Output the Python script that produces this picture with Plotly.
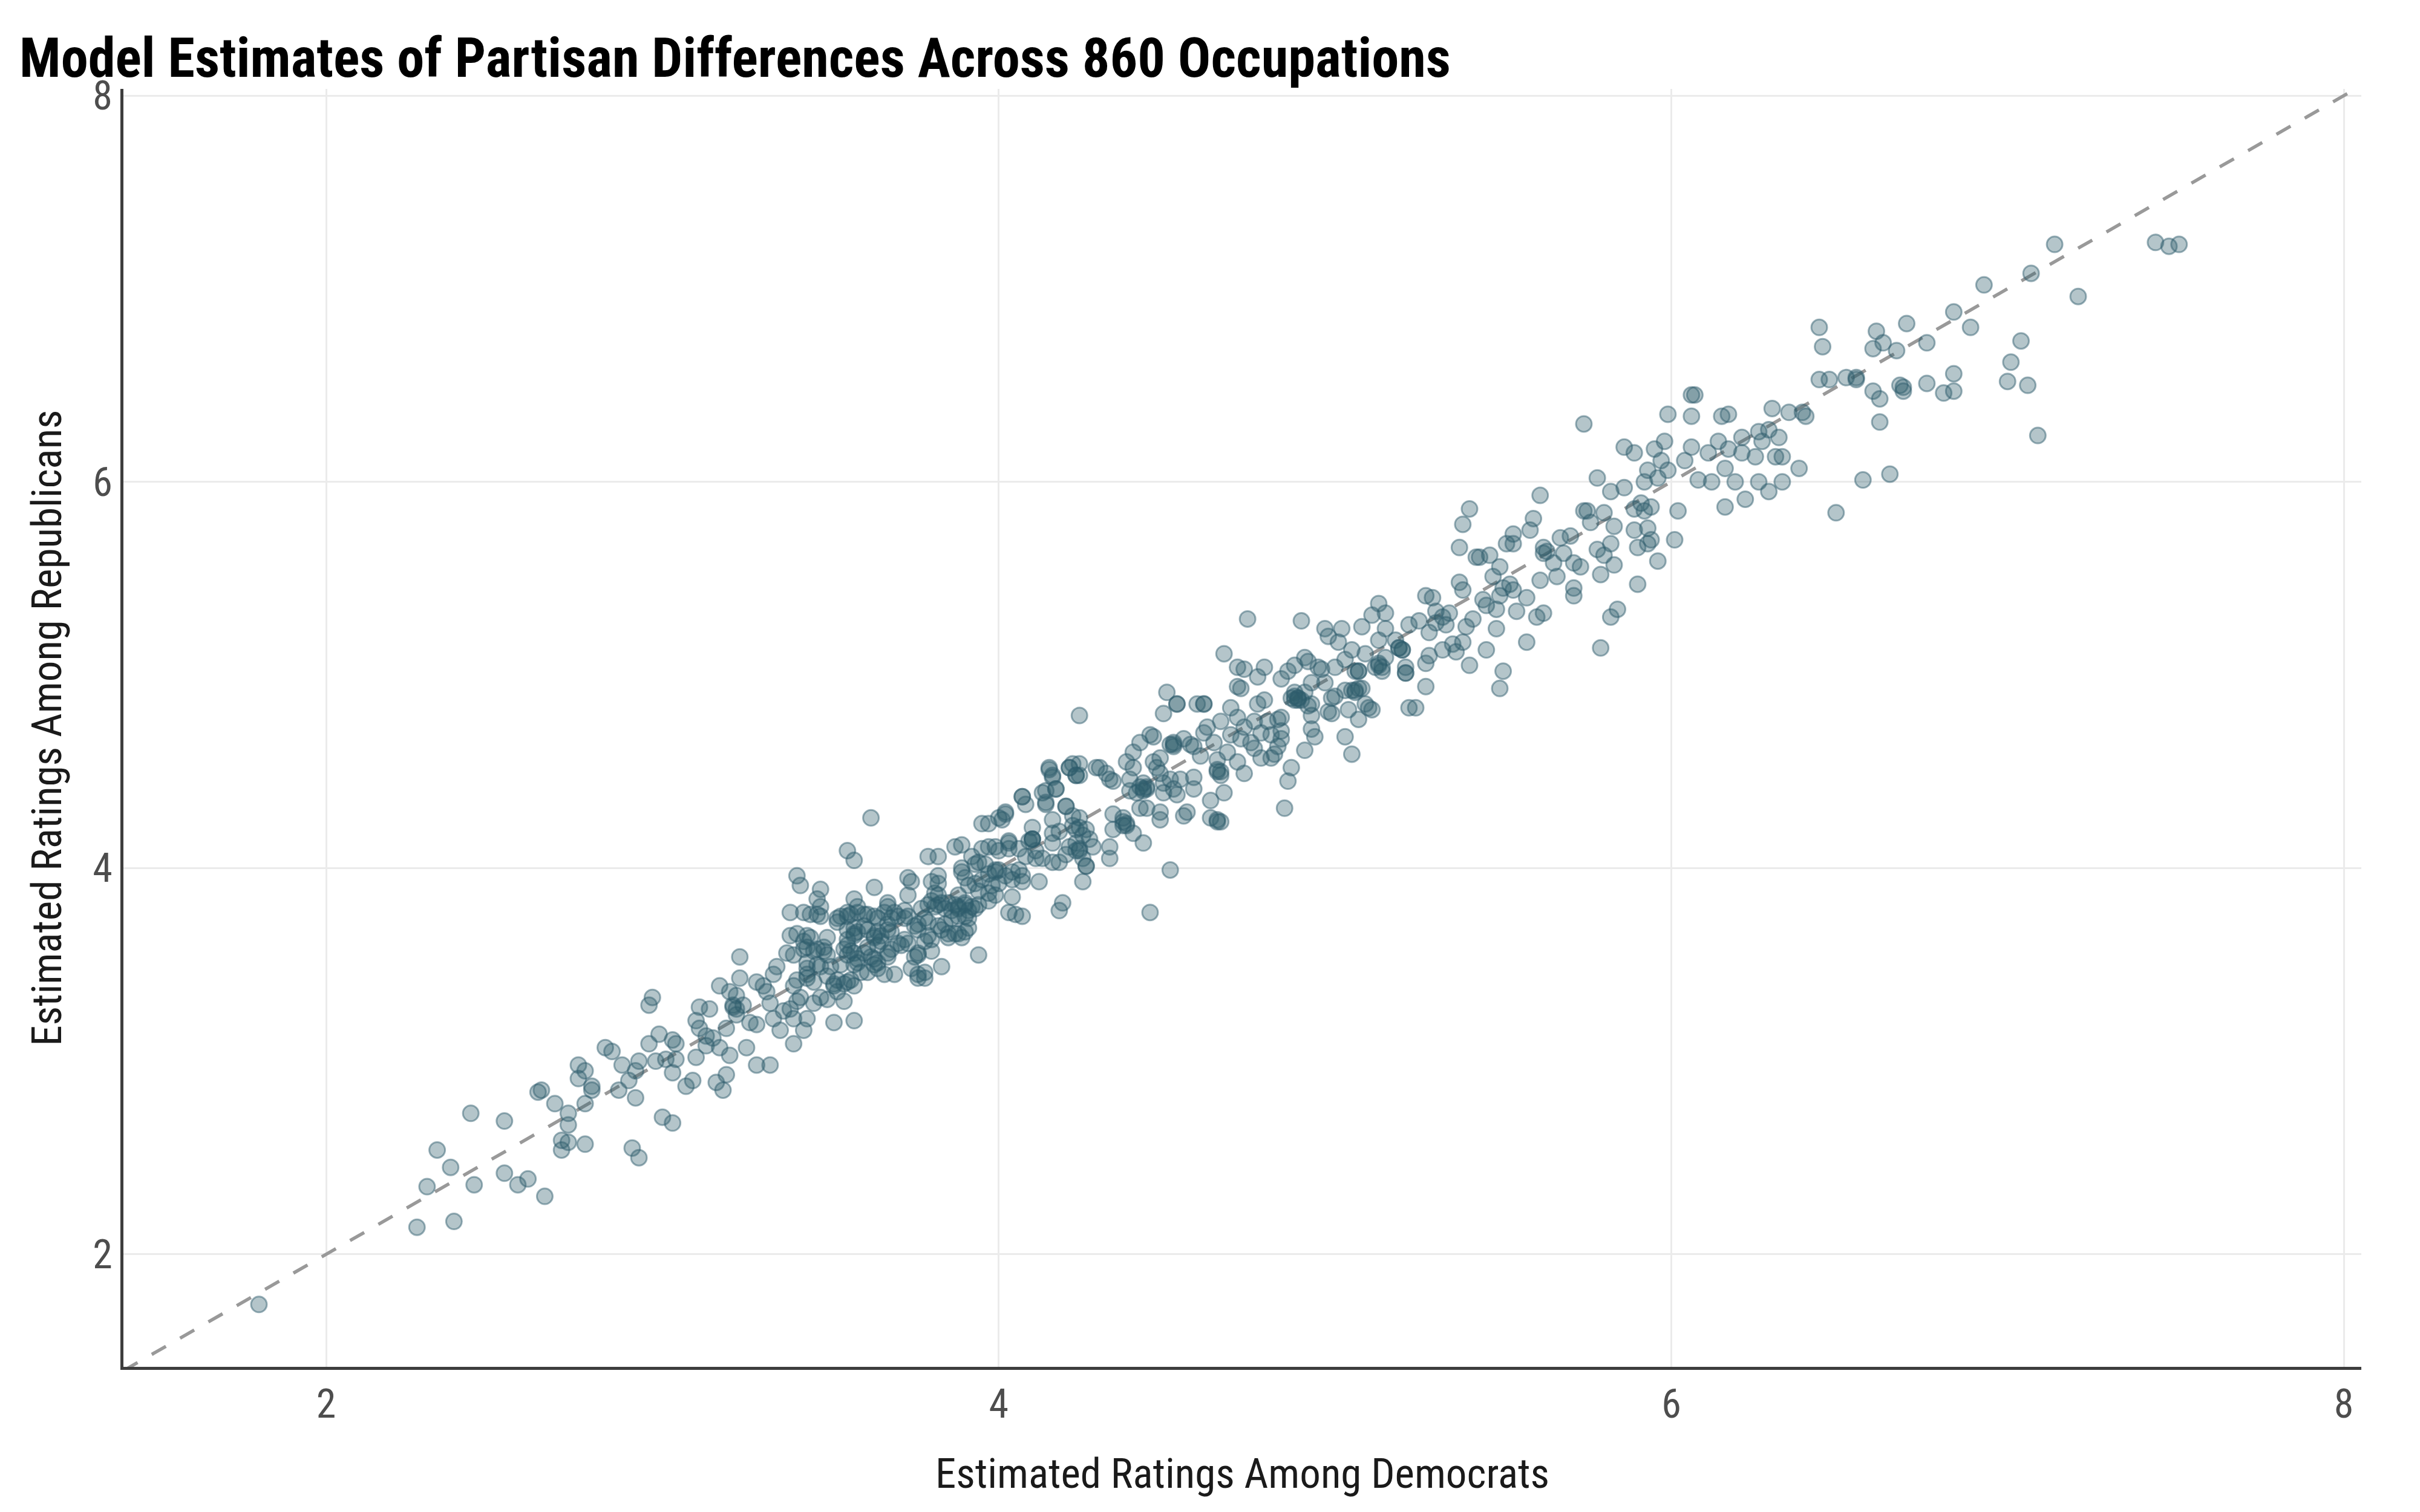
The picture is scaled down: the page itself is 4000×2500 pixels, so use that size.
import plotly.graph_objects as go

# ---- data (Democrat rating, Republican rating) ----
low_dem = [1.80, 2.27, 2.38, 2.30, 2.33, 2.37, 2.43, 2.44, 2.53, 2.53, 2.57, 2.60, 2.65, 2.63, 2.64, 2.68,
           2.70, 2.70, 2.72, 2.72, 2.72, 2.75, 2.75, 2.77, 2.77, 2.77, 2.79, 2.79, 2.91, 2.93, 3.00, 3.03]
low_rep = [1.74, 2.14, 2.17, 2.35, 2.54, 2.45, 2.73, 2.36, 2.42, 2.69, 2.36, 2.39, 2.30, 2.84, 2.85, 2.78,
           2.54, 2.59, 2.58, 2.73, 2.67, 2.91, 2.98, 2.95, 2.57, 2.78, 2.87, 2.85, 2.55, 2.50, 2.71, 2.68]

mid_dem = [2.83, 2.85, 2.88, 2.87, 2.92, 2.92, 2.90, 2.93, 2.96, 2.96,
           2.97, 2.99, 2.98, 3.01, 3.03, 3.04, 3.03, 3.04, 3.07, 3.09,
           3.10, 3.10, 3.11, 3.14, 3.11, 3.13, 3.15, 3.13, 3.17, 3.16,
           3.18, 3.19, 3.17, 3.20, 3.19, 3.20, 3.21, 3.22, 3.22, 3.23,
           3.24, 3.25, 3.26, 3.28, 3.28, 3.28, 3.30, 3.31, 3.32, 3.32,
           3.33, 3.35, 3.36, 3.33, 3.34, 3.39, 3.42, 3.62, 3.23, 3.95,
           3.97, 4.01, 4.02, 4.03, 4.07, 4.08,
           4.10, 4.10, 4.11, 4.12, 4.13, 4.15, 4.16, 4.17, 4.14, 4.16,
           4.18, 4.20, 4.21, 4.22, 4.23, 4.24, 4.24, 4.25, 4.21, 4.19,
           4.18, 4.22, 4.25, 4.26, 4.16, 3.21, 3.22]
mid_rep = [3.07, 3.05, 2.98, 2.85, 2.81, 2.95, 2.90, 3.00, 3.09, 3.29,
           3.33, 3.14, 3.00, 3.01, 2.94, 3.01, 3.11, 3.09, 2.87, 2.90,
           3.02, 3.21, 3.28, 3.27, 3.17, 3.13, 3.12, 3.08, 3.07, 2.89,
           2.85, 2.93, 3.39, 3.36, 3.17, 3.03, 3.29, 3.24, 3.34, 3.43,
           3.29, 3.07, 3.20, 3.19, 2.98, 3.41, 3.39, 3.36, 2.98, 3.30,
           3.22, 3.16, 3.26, 3.45, 3.49, 3.09, 3.16, 4.26, 3.54, 4.23,
           4.23, 4.25, 4.29, 4.13, 4.37, 4.33,
           4.15, 4.21, 4.05, 3.93, 4.39, 4.51, 4.47, 4.41, 4.34, 4.25,
           4.19, 4.32, 4.52, 4.54, 4.48, 4.79, 4.09, 3.93, 4.11, 3.82,
           3.78, 4.22, 4.17, 4.01, 4.03, 3.28, 3.27]

core_dem = [3.55, 3.57, 3.79, 3.82, 3.87, 3.89, 3.92, 3.95, 3.97, 3.99, 4.00, 4.03, 4.06, 4.08, 3.89,
            3.93, 3.94, 3.96, 3.99, 3.99, 4.00, 3.97, 4.02, 4.04, 4.06, 4.07, 4.07, 4.04, 4.00, 3.98,
            3.95, 3.93, 3.91, 3.89, 3.90, 3.94, 3.97, 3.99, 3.97, 4.04, 4.03, 4.05, 4.07, 3.94, 3.88,
            3.90, 3.90, 3.88, 3.87, 3.91, 3.92, 3.93, 3.94, 3.85, 3.83, 3.82, 3.81, 3.84, 3.86, 3.88,
            3.82, 3.81, 3.80, 3.79, 3.82, 3.82, 3.80, 3.73, 3.74, 3.73, 3.77, 3.75, 3.76, 3.76, 3.78,
            3.79, 3.82, 3.83, 3.84, 3.86, 3.88, 3.90, 3.91, 3.85, 3.85, 3.87, 3.88, 3.90, 3.89, 3.91,
            3.79, 3.80, 3.78, 3.80, 3.76, 3.76, 3.75, 3.74, 3.76, 3.78, 3.76, 3.78, 3.83, 3.63, 3.47,
            3.46, 3.47, 3.46, 3.47, 3.44, 3.40, 3.41, 3.38, 3.42, 3.57, 3.58, 3.56, 3.55, 3.55, 3.52,
            3.52, 3.53, 3.58, 3.60, 3.61, 3.63, 3.64, 3.67, 3.67, 3.66, 3.69, 3.70, 3.72, 3.73, 3.72,
            3.68, 3.67, 3.64, 3.63, 3.65, 3.63, 3.65, 3.64, 3.68, 3.67, 3.60, 3.61, 3.58, 3.57, 3.55,
            3.57, 3.57, 3.55, 3.55, 3.56, 3.57, 3.54, 3.55, 3.58, 3.58, 3.57, 3.60, 3.62, 3.63, 3.61,
            3.63, 3.64, 3.64, 3.67, 3.68, 3.67, 3.70, 3.72, 3.71, 3.73, 3.66, 3.69, 3.59, 3.61, 3.53,
            3.50, 3.49, 3.48, 3.48, 3.46, 3.49, 3.44, 3.43, 3.42, 3.42, 3.43, 3.45, 3.40, 3.38, 3.37,
            3.39, 3.43, 3.43, 3.43, 3.43, 3.45, 3.40, 3.39, 3.46, 3.47, 3.49, 3.51, 3.52, 3.54, 3.52,
            3.51, 3.55, 3.56, 3.57, 3.49, 3.47, 3.45, 3.54, 3.41, 3.40, 3.38, 3.39, 3.43, 3.51, 3.57]
core_rep = [4.09, 4.04, 4.06, 4.06, 4.11, 4.12, 4.06, 4.10, 4.11, 4.11, 4.09, 4.10, 4.10, 4.06, 4.00,
            4.02, 4.03, 4.02, 3.99, 3.98, 3.99, 3.97, 3.96, 3.98, 3.99, 3.96, 3.93, 3.94, 3.92, 3.91,
            3.94, 3.92, 3.91, 3.98, 3.95, 3.88, 3.87, 3.86, 3.83, 3.85, 3.77, 3.76, 3.75, 3.55, 3.86,
            3.82, 3.81, 3.80, 3.81, 3.78, 3.80, 3.79, 3.81, 3.82, 3.82, 3.81, 3.80, 3.79, 3.78, 3.79,
            3.86, 3.87, 3.83, 3.81, 3.96, 3.92, 3.93, 3.95, 3.93, 3.86, 3.79, 3.70, 3.71, 3.68, 3.74,
            3.72, 3.70, 3.68, 3.71, 3.74, 3.75, 3.75, 3.74, 3.66, 3.64, 3.66, 3.66, 3.67, 3.64, 3.69,
            3.65, 3.63, 3.62, 3.57, 3.55, 3.56, 3.54, 3.48, 3.45, 3.46, 3.43, 3.43, 3.49, 3.90, 3.89,
            3.84, 3.80, 3.76, 3.75, 3.76, 3.96, 3.91, 3.77, 3.77, 3.84, 3.80, 3.76, 3.75, 3.77, 3.74,
            3.72, 3.75, 3.77, 3.76, 3.76, 3.75, 3.74, 3.82, 3.80, 3.77, 3.77, 3.75, 3.78, 3.75, 3.74,
            3.74, 3.71, 3.67, 3.65, 3.65, 3.64, 3.62, 3.60, 3.67, 3.68, 3.70, 3.68, 3.67, 3.69, 3.68,
            3.66, 3.65, 3.63, 3.60, 3.57, 3.56, 3.58, 3.55, 3.53, 3.51, 3.50, 3.56, 3.54, 3.53, 3.59,
            3.50, 3.51, 3.48, 3.56, 3.58, 3.54, 3.61, 3.63, 3.60, 3.61, 3.45, 3.45, 3.46, 3.46, 3.50,
            3.49, 3.64, 3.57, 3.59, 3.58, 3.55, 3.64, 3.65, 3.62, 3.58, 3.59, 3.57, 3.66, 3.65, 3.56,
            3.55, 3.51, 3.48, 3.45, 3.43, 3.41, 3.42, 3.39, 3.50, 3.49, 3.44, 3.40, 3.42, 3.40, 3.36,
            3.39, 3.41, 3.42, 3.39, 3.32, 3.33, 3.30, 3.31, 3.33, 3.31, 3.27, 3.22, 3.22, 3.20, 3.21]

upper_dem = [4.33, 4.33, 4.34, 4.34, 4.37, 4.37, 4.38, 4.40, 4.43, 4.41,
             4.39, 4.39, 4.43, 4.44, 4.42, 4.44, 4.38, 4.40, 4.42, 4.40,
             4.45, 4.46, 4.46, 4.48, 4.47, 4.48, 4.49, 4.49, 4.48, 4.48,
             4.51, 4.49, 4.50, 4.51, 4.51, 4.52, 4.53, 4.53, 4.54, 4.55,
             4.55, 4.56, 4.57, 4.58, 4.58, 4.58, 4.59, 4.61, 4.60, 4.61,
             4.62, 4.63, 4.64, 4.63, 4.65, 4.65, 4.65, 4.65, 4.66, 4.66,
             4.67, 4.67, 4.68, 4.69, 4.69, 4.71, 4.71, 4.71, 4.71, 4.72,
             4.73, 4.73, 4.73, 4.74, 4.75, 4.76, 4.76, 4.77, 4.77, 4.78,
             4.78, 4.79, 4.79, 4.80, 4.81, 4.81, 4.82, 4.83, 4.83, 4.84,
             4.84, 4.84, 4.85, 4.86, 4.87, 4.86, 4.88, 4.88, 4.89, 4.90,
             4.90, 4.91, 4.91, 4.91, 4.92, 4.92, 4.93, 4.93, 4.93, 4.94,
             4.93, 4.95, 4.96, 4.97, 4.97, 4.98, 4.99, 5.00, 5.00, 5.01,
             5.02, 5.03, 5.03, 5.03, 5.04, 5.05, 5.05, 5.05, 5.06, 5.06,
             5.07, 5.07, 5.08, 5.08, 5.09, 5.09, 5.10, 5.11, 5.11, 5.12,
             5.13, 5.13, 5.13, 5.14, 5.15, 5.15, 5.15, 5.18, 5.19, 5.20,
             5.21, 5.21, 5.22, 5.24, 5.22, 5.25, 5.27, 5.27, 5.28, 5.27,
             5.28, 5.29, 5.30, 5.30, 5.32, 5.32, 5.33, 5.34, 5.35, 5.36,
             5.37, 5.37, 5.38, 5.38, 5.40, 5.38, 5.39, 5.40, 5.41, 5.42,
             4.15, 4.21, 4.24, 4.16, 4.23, 4.24, 4.29, 4.30, 4.32, 4.33,
             4.34, 4.14, 4.17, 4.07, 4.14, 4.20, 4.22, 4.24, 4.26, 4.27,
             4.28, 4.23, 4.20, 4.18, 4.10, 4.11, 4.13, 4.02,
             4.00, 4.03, 4.16, 4.16, 4.25, 4.26,
             4.89, 4.88, 4.52, 4.43, 4.44, 4.45]
upper_rep = [4.05, 4.11, 4.20, 4.28, 4.22, 4.26, 4.22, 4.18, 4.13, 4.39,
             4.40, 4.46, 4.44, 4.41, 4.31, 4.31, 4.55, 4.60, 4.65, 4.52,
             4.69, 4.68, 4.55, 4.57, 4.52, 4.49, 4.44, 4.39, 4.25, 4.29,
             3.99, 4.80, 4.91, 4.64, 4.46, 4.41, 4.38, 4.85, 4.46, 4.67,
             4.27, 4.29, 4.64, 4.63, 4.47, 4.41, 4.85, 4.85, 4.58, 4.70,
             4.73, 4.26, 4.65, 4.35, 4.25, 4.24, 4.56, 4.50, 4.48, 4.76,
             4.39, 5.11, 4.60, 4.83, 4.69, 5.04, 4.55, 4.78, 4.94, 4.67,
             5.03, 4.49, 4.73, 5.29, 4.65, 4.62, 4.76, 4.99, 4.85, 4.57,
             4.70, 5.04, 4.87, 4.76, 4.69, 4.57, 4.59, 4.63, 4.77, 4.67,
             4.71, 4.98, 4.31, 4.45, 4.52, 5.02, 5.05, 4.91, 4.88, 5.28,
             4.87, 4.91, 4.61, 5.09, 5.07, 4.84, 4.79, 4.96, 4.72, 4.68,
             4.85, 5.04, 5.03, 4.96, 5.24, 5.20, 4.88, 5.04, 4.89, 5.17,
             5.24, 5.08, 4.92, 4.68, 4.82, 5.13, 4.92, 4.59, 5.02, 4.91,
             5.02, 4.77, 4.93, 5.25, 5.11, 4.85, 4.83, 5.31, 4.82, 5.04,
             5.37, 5.18, 5.06, 5.02, 5.24, 5.32, 5.09, 5.18, 5.14, 5.13,
             5.04, 5.01, 4.83, 4.83, 5.26, 5.28, 4.94, 5.06, 5.10, 5.41,
             5.22, 5.40, 5.27, 5.33, 5.13, 5.30, 5.26, 5.32, 5.16, 5.12,
             5.66, 5.48, 5.44, 5.78, 5.86, 5.17, 5.25, 5.05, 5.29, 5.61,
             4.52, 4.52, 4.54, 4.48, 4.48, 4.48, 4.52, 4.52, 4.49, 4.46,
             4.45, 4.40, 4.41, 4.37, 4.33, 4.32, 4.27, 4.26, 4.20, 4.15,
             4.11, 4.13, 4.07, 4.03, 4.15, 4.09, 4.05, 4.28,
             4.26, 4.14, 4.18, 4.13, 4.05, 4.01,
             4.88, 4.87, 4.63, 4.41, 4.42, 3.77]

dense_dem = [4.43, 4.42, 4.38, 4.37, 4.24, 4.23, 4.10, 4.09, 4.24, 4.23, 4.66, 4.65, 4.52, 4.52, 4.61, 4.53,
             4.66, 4.88, 4.89, 4.87, 5.19, 5.20, 5.07, 5.13, 5.14, 5.06, 5.07, 4.84, 5.21, 4.72, 4.98, 4.99]
dense_rep = [4.40, 4.42, 4.23, 4.24, 4.21, 4.20, 4.15, 4.14, 4.10, 4.09, 4.50, 4.51, 4.64, 4.65, 4.85, 4.85,
             4.24, 4.89, 4.87, 4.88, 5.14, 5.13, 5.02, 5.05, 5.04, 4.92, 4.93, 4.78, 5.01, 4.93, 4.81, 4.80]

high_dem = [5.44, 5.45, 5.43, 5.46, 5.45, 5.48, 5.48, 5.47, 5.49, 5.49,
            5.50, 5.49, 5.50, 5.51, 5.52, 5.53, 5.53, 5.53, 5.54, 5.57,
            5.57, 5.58, 5.59, 5.60, 5.61, 5.61, 5.62, 5.62, 5.62, 5.63,
            5.65, 5.66, 5.67, 5.68, 5.70, 5.71, 5.71, 5.71, 5.73, 5.74,
            5.74, 5.75, 5.76, 5.78, 5.78, 5.79, 5.79, 5.80, 5.80, 5.82,
            5.82, 5.83, 5.82, 5.83, 5.84, 5.86, 5.86, 5.89, 5.89, 5.89,
            5.90, 5.90, 5.91, 5.92, 5.92, 5.93, 5.93, 5.93, 5.94, 5.94,
            5.95, 5.96, 5.96, 5.97, 5.98, 5.99, 5.99, 6.01, 6.02, 6.04,
            6.06, 6.06, 6.06, 6.07, 6.08, 6.11, 6.12, 6.14, 6.15, 6.16,
            6.16, 6.17, 6.17, 6.19, 6.21, 6.21, 6.22, 6.25, 6.26, 6.26,
            6.27, 6.29, 6.29, 6.30, 6.31, 6.32, 6.33, 6.33, 6.35, 6.38,
            6.39, 6.40, 6.44, 6.44, 6.45, 6.47, 6.49, 6.52, 6.55, 6.55,
            6.57]
high_rep = [5.39, 5.13, 5.61, 5.62, 5.36, 5.34, 5.24, 5.51, 5.56, 5.41,
            5.45, 4.93, 5.02, 5.68, 5.47, 5.44, 5.73, 5.68, 5.33, 5.40,
            5.17, 5.75, 5.81, 5.30, 5.93, 5.49, 5.32, 5.66, 5.63, 5.64,
            5.58, 5.51, 5.71, 5.63, 5.72, 5.45, 5.41, 5.58, 5.56, 5.85,
            6.30, 5.85, 5.79, 6.02, 5.65, 5.14, 5.52, 5.84, 5.62, 5.95,
            5.30, 5.77, 5.68, 5.57, 5.34, 5.97, 6.18, 5.75, 6.15, 5.86,
            5.66, 5.47, 5.89, 6.00, 5.85, 6.06, 5.76, 5.68, 5.70, 5.87,
            6.17, 6.02, 5.59, 6.11, 6.21, 6.35, 6.06, 5.70, 5.85, 6.11,
            6.34, 6.18, 6.45, 6.45, 6.01, 6.15, 6.00, 6.21, 6.34, 6.07,
            5.87, 6.17, 6.35, 6.00, 6.15, 6.23, 5.91, 6.13, 6.00, 6.26,
            6.21, 5.95, 6.27, 6.38, 6.13, 6.23, 6.13, 6.00, 6.36, 6.07,
            6.36, 6.34, 6.53, 6.80, 6.70, 6.53, 5.84, 6.54, 6.54, 6.53,
            6.01]

top_dem = [6.60, 6.60, 6.61, 6.62, 6.62, 6.63, 6.65, 6.67, 6.68, 6.69,
           6.70, 6.69, 6.76, 6.76, 6.81, 6.84, 6.84, 6.84, 6.89, 6.93,
           7.00, 7.01, 7.04, 7.06, 7.07, 7.09, 7.14, 7.21, 7.44, 7.48, 7.51]
top_rep = [6.69, 6.47, 6.78, 6.43, 6.31, 6.72, 6.04, 6.68, 6.50, 6.49,
           6.82, 6.47, 6.72, 6.51, 6.46, 6.56, 6.88, 6.47, 6.80, 7.02,
           6.52, 6.62, 6.73, 6.50, 7.08, 6.24, 7.23, 6.96, 7.24, 7.22, 7.23]

x_ticks = [2, 4, 6, 8]
y_ticks = [2, 4, 6, 8]
x_range = [1.397, 8.052]
y_range = [1.417, 8.035]

groups = [(low_dem, low_rep), (mid_dem, mid_rep), (core_dem, core_rep), (upper_dem, upper_rep),
          (dense_dem, dense_rep), (high_dem, high_rep), (top_dem, top_rep)]
for i, (a, b) in enumerate(groups):
    if len(a) != len(b):
        raise ValueError(f"group {i}: length mismatch {len(a)} vs {len(b)}")

dem = [v for a, _ in groups for v in a]
rep = [v for _, b in groups for v in b]

FONT = "'Roboto Condensed', 'DejaVu Sans Condensed', 'Liberation Sans Narrow', Roboto, sans-serif"

fig = go.Figure()
fig.add_trace(go.Scatter(
    x=[x_range[0], x_range[1]], y=[x_range[0], x_range[1]], mode="lines",
    line=dict(color="#999999", width=5.5, dash="27px,27px"),
    hoverinfo="skip", showlegend=False))
fig.add_trace(go.Scatter(
    x=dem, y=rep, mode="markers",
    marker=dict(size=26, color="rgba(47,93,108,0.36)",
                line=dict(color="rgba(47,93,108,0.48)", width=3)),
    showlegend=False))

fig.update_layout(
    width=4000, height=2500,
    margin=dict(l=204, r=97, t=147, b=240),
    plot_bgcolor="white", paper_bgcolor="white",
    title=dict(text="<b>Model Estimates of Partisan Differences Across 860 Occupations</b>",
               x=32 / 4000, xref="container", xanchor="left",
               y=1 - 95 / 2500, yref="container", yanchor="middle",
               font=dict(family=FONT, size=90.5, color="#000000")),
    annotations=[
        dict(text="Estimated Ratings Among Democrats", x=0.5, y=-(2436 - 2260) / 2113,
             xref="paper", yref="paper", xanchor="center", yanchor="middle", showarrow=False,
             font=dict(family=FONT, size=69, color="#1A1A1A")),
        dict(text="Estimated Ratings Among Republicans", x=-(204 - 77) / 3699, y=0.5,
             xref="paper", yref="paper", xanchor="center", yanchor="middle", showarrow=False,
             textangle=-90, font=dict(family=FONT, size=69, color="#1A1A1A")),
    ],
)
fig.update_xaxes(range=x_range, tickvals=x_ticks, ticktext=[str(v) for v in x_ticks],
                 showgrid=True, gridcolor="#EBEBEB", gridwidth=3, zeroline=False,
                 showline=True, linecolor="#3D3D3D", linewidth=5, ticks="",
                 tickfont=dict(family=FONT, size=66, color="#4D4D4D"))
fig.update_yaxes(range=y_range, tickvals=y_ticks, ticktext=[str(v) for v in y_ticks],
                 showgrid=True, gridcolor="#EBEBEB", gridwidth=3, zeroline=False,
                 showline=True, linecolor="#3D3D3D", linewidth=5, ticks="",
                 tickfont=dict(family=FONT, size=66, color="#4D4D4D"))

fig.write_html("out.html")
